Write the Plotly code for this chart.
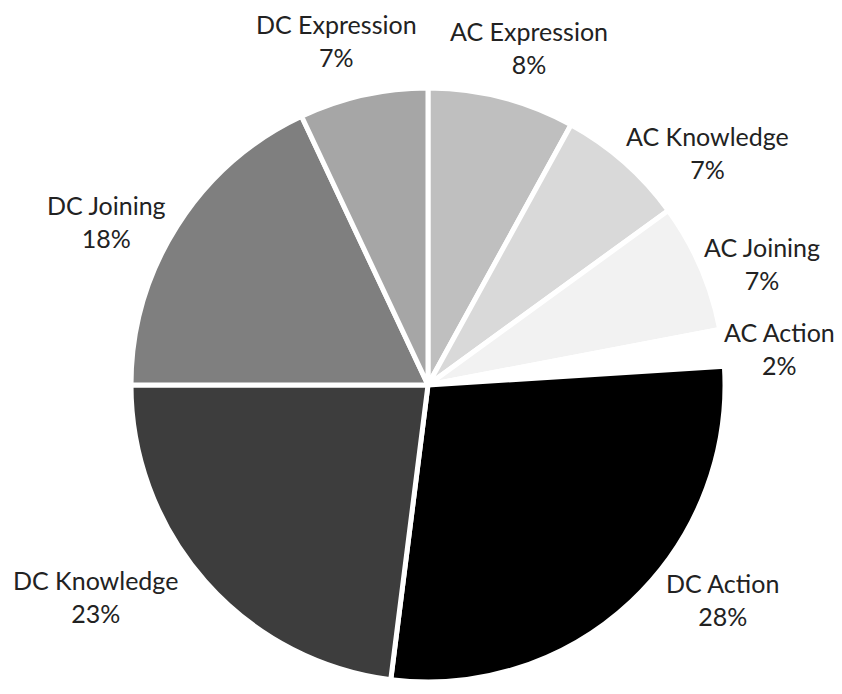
import math
import plotly.graph_objects as go

# ---- data ----
categories = ["AC Expression", "AC Knowledge", "AC Joining", "AC Action",
              "DC Action", "DC Knowledge", "DC Joining", "DC Expression"]
shares = [8, 7, 7, 2, 28, 23, 18, 7]
colors = ["#bfbfbf", "#d9d9d9", "#f2f2f2", "#ffffff",
          "#000000", "#3d3d3d", "#7f7f7f", "#a6a6a6"]

# ---- layout geometry (pixels) ----
W, H = 842, 694
CX, CY, R = 428, 385, 297
LABEL_DIST = 355
# manual label nudges (px) relative to the mid-angle anchor, like moved data labels
label_nudge = [(13, 6), (45, 34), (8, 19), (-1, 8),
               (51, -44), (-66, -23), (-22, 27), (-14, 2)]

fig = go.Figure(go.Pie(
    labels=categories,
    values=shares,
    marker=dict(colors=colors, line=dict(color="white", width=5)),
    sort=False,
    direction="clockwise",
    rotation=0,
    textinfo="none",
    hoverinfo="label+percent",
    domain=dict(x=[(CX - R) / W, (CX + R) / W],
                y=[1 - (CY + R) / H, 1 - (CY - R) / H]),
))

total = sum(shares)
cum = 0
annotations = []
for name, v, (nx, ny) in zip(categories, shares, label_nudge):
    mid = (cum + v / 2) / total * 2 * math.pi
    cum += v
    px = CX + LABEL_DIST * math.sin(mid) + nx
    py = CY - LABEL_DIST * math.cos(mid) + ny
    annotations.append(dict(
        x=px / W, y=1 - py / H, xref="paper", yref="paper",
        xanchor="center", yanchor="middle",
        text=f"{name}<br>{round(v / total * 100)}%",
        showarrow=False, align="center",
        font=dict(family="Lato, sans-serif", size=25, color="#222222"),
    ))

fig.update_layout(
    width=W, height=H,
    margin=dict(l=0, r=0, t=0, b=0),
    paper_bgcolor="white", plot_bgcolor="white",
    showlegend=False,
    annotations=annotations,
)

fig.write_html("out.html", config={"displayModeBar": False},
               post_script="document.body.style.margin='0';")
